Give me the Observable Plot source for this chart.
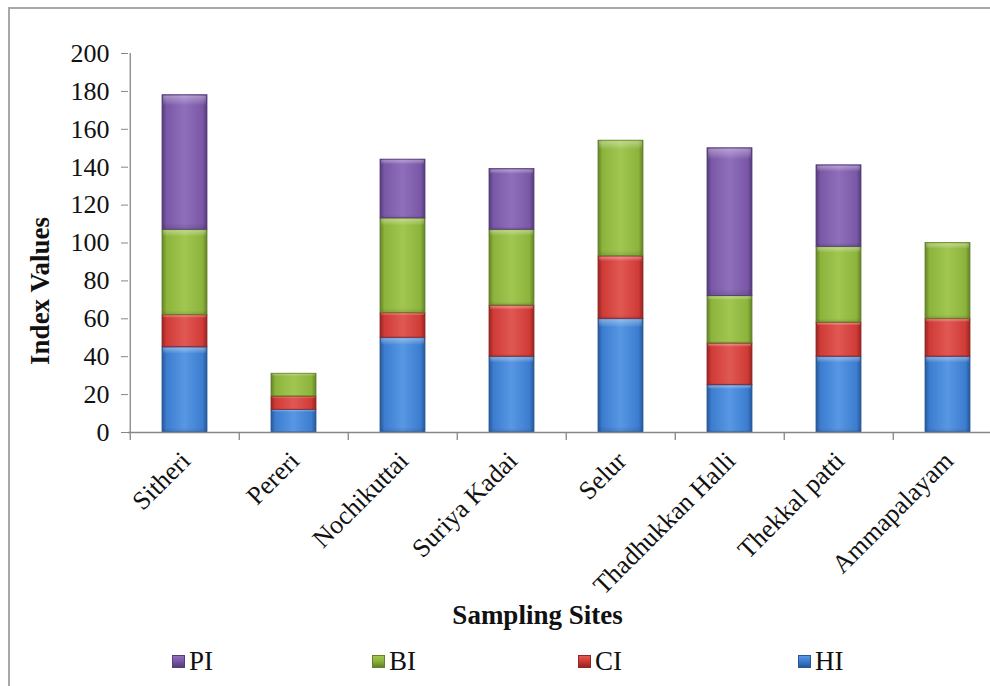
<!DOCTYPE html>
<html><head><meta charset="utf-8">
<script src="https://cdn.jsdelivr.net/npm/d3@7"></script>
<script src="https://cdn.jsdelivr.net/npm/@observablehq/plot@0.6"></script>
<style>
body{margin:0;background:#fff;width:990px;height:686px;overflow:hidden;position:relative;font-family:"Liberation Serif","Tinos","Times New Roman","DejaVu Serif",serif;}
svg text, #legend span{font-family:"Liberation Serif","Tinos","Times New Roman","DejaVu Serif",serif !important;}
#frame{position:absolute;left:8px;top:7px;width:1200px;height:1000px;border-left:2px solid #a8a8a8;border-top:2px solid #a8a8a8;}
#chart{position:absolute;left:0;top:0;}
#legend{position:absolute;left:0;top:640px;width:990px;height:46px;}
.item{position:absolute;top:8px;display:flex;align-items:center;font-size:27px;line-height:27px;color:#111}
.sw{width:13px;height:13px;margin-right:4px;box-sizing:border-box}
</style></head><body>
<div id="frame"></div><div id="chart"></div><div id="legend"></div>
<script>
const sites = ["Sitheri","Pereri","Nochikuttai","Suriya Kadai","Selur","Thadhukkan Halli","Thekkal patti","Ammapalayam"];
const seriesNames = ["HI","CI","BI","PI"];
const HI = [45, 12, 50, 40, 60, 25, 40, 40];
const CI = [17, 7, 13, 27, 33, 22, 18, 20];
const BI = [45, 12, 50, 40, 61, 25, 40, 40];
const PI = [71, 0, 31, 32, 0, 78, 43, 0];
const yTicks = [0, 20, 40, 60, 80, 100, 120, 140, 160, 180, 200];
const legendOrder = ["PI", "BI", "CI", "HI"];
const legendLeft = [172, 372, 578, 798];
const palette = {
  HI: {base: "#3c7dd0", light: "#5797e3", dark: "#285898"},
  CI: {base: "#d03b37", light: "#e05853", dark: "#952623"},
  BI: {base: "#8cb43b", light: "#a1c651", dark: "#63822a"},
  PI: {base: "#7a58a7", light: "#8f6fbc", dark: "#553c7a"}
};
const values = {HI, CI, BI, PI};

const rows = [];
sites.forEach((s, i) => seriesNames.forEach(k => rows.push({site: s, series: k, value: values[k][i]})));

const band = 876 / sites.length;
const axisColor = "#868686";
const serif = "'Liberation Serif','Tinos','Times New Roman','DejaVu Serif',serif";

const chart = Plot.plot({
  width: 990,
  height: 640,
  marginTop: 53,
  marginBottom: 208,
  marginLeft: 128,
  marginRight: -14,
  style: {fontFamily: serif, fontSize: "26px", color: "#111", background: "transparent", overflow: "visible"},
  x: {type: "band", domain: sites, padding: 0, range: [128, 1004], axis: null},
  y: {domain: [0, 200], axis: null},
  color: {domain: seriesNames, range: seriesNames.map(k => `url(#g-${k})`)},
  marks: [
    Plot.barY(rows, Plot.stackY({x: "site", y: "value", fill: "series", insetLeft: 32, insetRight: 32, stroke: d => palette[d.series].dark, strokeWidth: 0.8})),
    Plot.barY(rows, Plot.stackY({x: "site", y: "value", fill: "url(#hl)", insetLeft: 33, insetRight: 33, insetTop: 1})),
    Plot.ruleY([0], {stroke: axisColor, strokeWidth: 1.3}),
    Plot.ruleX([sites[0]], {y1: 0, y2: 200, dx: -band / 2, stroke: axisColor, strokeWidth: 1.3}),
    Plot.ruleX(sites, {x: d => d, y1: 0, y2: 0, dx: -band / 2, insetBottom: -8, stroke: axisColor, strokeWidth: 1.3}),
    Plot.axisY(yTicks, {tickSize: 7, tickPadding: 12, stroke: axisColor, fill: "#111", fontSize: 26, label: null}),
    Plot.axisX({tickSize: 0, tickPadding: 24, tickRotate: -45, fontSize: 26, fill: "#111", label: null, dx: 1}),
    Plot.text(["Index Values"], {frameAnchor: "left", textAnchor: "middle", rotate: -90, dx: -88, dy: 48, fontWeight: "bold", fontSize: 27, fill: "#111"}),
    Plot.text(["Sampling Sites"], {frameAnchor: "bottom", dx: -29, dy: 191, fontWeight: "bold", fontSize: 27, fill: "#111"})
  ]
});

// gradient definitions for the bevelled bar look
const ns = "http://www.w3.org/2000/svg";
const defs = document.createElementNS(ns, "defs");
function grad(id, vertical, stops) {
  const g = document.createElementNS(ns, "linearGradient");
  g.setAttribute("id", id);
  g.setAttribute("x1", "0"); g.setAttribute("y1", "0");
  g.setAttribute("x2", vertical ? "0" : "1"); g.setAttribute("y2", vertical ? "1" : "0");
  stops.forEach(([o, col, op]) => {
    const s = document.createElementNS(ns, "stop");
    s.setAttribute("offset", o); s.setAttribute("stop-color", col);
    s.setAttribute("stop-opacity", op == null ? 1 : op);
    g.appendChild(s);
  });
  defs.appendChild(g);
}
for (const k of seriesNames) {
  const c = palette[k];
  grad(`g-${k}`, false, [[0, c.dark], [0.1, c.base], [0.5, c.light], [0.9, c.base], [1, c.dark]]);
}
grad("hl", true, [[0, "#ffffff", 0.35], [0.05, "#ffffff", 0.12], [0.07, "#ffffff", 0], [0.95, "#000000", 0], [1, "#000000", 0.12]]);
chart.insertBefore(defs, chart.firstChild);
document.getElementById("chart").appendChild(chart);

const legend = document.getElementById("legend");
legendOrder.forEach((k, i) => {
  const it = document.createElement("div");
  it.className = "item";
  it.style.left = legendLeft[i] + "px";
  const sw = document.createElement("div");
  sw.className = "sw";
  sw.style.background = `linear-gradient(180deg, ${palette[k].light}, ${palette[k].base} 45%, ${palette[k].dark})`;
  sw.style.border = `1px solid ${palette[k].dark}`;
  it.appendChild(sw);
  const t = document.createElement("span");
  t.textContent = k;
  it.appendChild(t);
  legend.appendChild(it);
});
</script>
</body></html>
